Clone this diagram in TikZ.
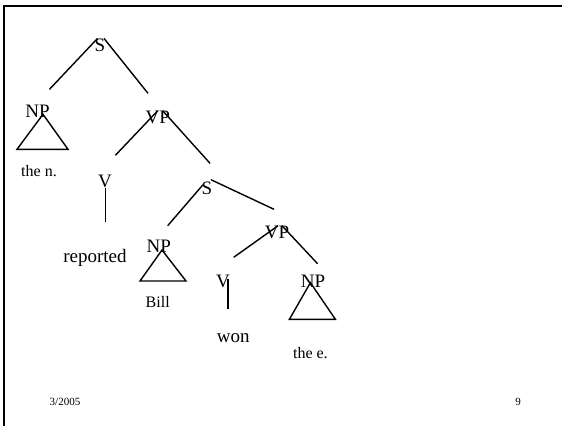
\documentclass[tikz,border=0pt]{standalone}
\usepackage{fontspec}
\setmainfont{Liberation Serif}
\newcommand\npbox[4]{\draw[branch] (#1) -- ++(#2,#4) -- ++(#3-#2,0) -- cycle;}
\begin{document}
\begin{tikzpicture}[x=1pt,y=-1pt,inner sep=0pt,
    cat/.style={font=\fontsize{19}{19}\selectfont},
    leaf/.style={font=\fontsize{16}{16}\selectfont},
    word/.style={font=\fontsize{19}{19}\selectfont},
    foot/.style={font=\fontsize{11}{11}\selectfont},
    branch/.style={line width=1.4pt}]
\useasboundingbox (0,0) rectangle (562,426);
\draw[line width=2pt] (4,426) -- (4,6) -- (562,6);

\node[cat] (s_0) at (100,45) {S};
\node[cat] (np_0) at (37.6,111) {NP};
\node[cat] (vp_0) at (157.7,117.3) {VP};
\node[leaf] (the_n) at (39,171) {the n.};
\node[cat] (v_0) at (105,181.7) {V};
\node[word] (reported) at (95,257.7) {reported};
\node[cat] (s_1) at (207,188.3) {S};
\node[cat] (np_1) at (158.8,246.7) {NP};
\node[leaf] (bill) at (157.7,301.7) {Bill};
\node[cat] (vp_1) at (277,232.3) {VP};
\node[cat] (v_1) at (223,281) {V};
\node[word] (won) at (233.3,337.7) {won};
\node[cat] (np_2) at (313,281) {NP};
\node[leaf] (the_e) at (310.4,353) {the e.};
\node[foot] (date) at (65,402) {3/2005};
\node[foot] (page) at (518,402) {9};

\coordinate (a_0) at (49.5,89.3);
\coordinate (b_0) at (148,93.3);
\coordinate (a_1) at (115.4,155.3);
\coordinate (b_1) at (210,163.3);
\coordinate (c_1) at (105.7,221.7);
\coordinate (a_2) at (167.7,225.7);
\coordinate (b_2) at (274,209.3);
\coordinate (a_3) at (233.7,257.3);
\coordinate (b_3) at (317.6,263.7);
\coordinate (c_3) at (228,309.3);

\draw[branch] ([xshift=-2.5pt]s_0.north) -- (a_0);
\draw[branch] ([xshift=4pt]s_0.north) -- (b_0);
\draw[branch] (vp_0.north) -- (a_1);
\draw[branch] ([xshift=5pt]vp_0.north) -- (b_1);
\draw[branch] ([xshift=0.7pt]v_0.south) -- (c_1);
\draw[branch] ([xshift=-4pt,yshift=-3pt]s_1.north) -- (a_2);
\draw[branch] ([xshift=4pt,yshift=2pt]s_1.north) -- (b_2);
\draw[branch] ([xshift=1pt]vp_1.north) -- (a_3);
\draw[branch] ([xshift=5pt]vp_1.north) -- (b_3);
\draw[branch] ([xshift=5pt,yshift=1.7pt]v_1.center) -- (c_3);

\npbox{[shift={(5.4,3.3)}]np_0.center}{-26}{25}{35}
\npbox{[shift={(3.2,3.3)}]np_1.center}{-22}{24}{31}
\npbox{[shift={(-2.6,1.7)}]np_2.center}{-21}{25}{36.6}
\end{tikzpicture}
\end{document}
